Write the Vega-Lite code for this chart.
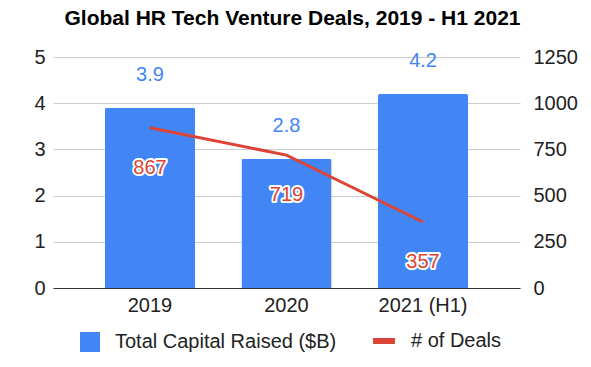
{
  "$schema": "https://vega.github.io/schema/vega-lite/v6.json",
  "width": 467,
  "height": 231,
  "autosize": "none",
  "padding": {"left": 53, "top": 57, "right": 71, "bottom": 79},
  "background": "white",
  "title": {
    "text": "Global HR Tech Venture Deals, 2019 - H1 2021",
    "font": "Liberation Sans",
    "fontSize": 21,
    "fontWeight": "bold",
    "color": "#000000",
    "anchor": "middle",
    "frame": "group",
    "offset": 18,
    "dx": 6
  },
  "config": {
    "view": {"stroke": null},
    "font": "Liberation Sans",
    "axis": {"labelFont": "Liberation Sans", "labelFontSize": 20, "labelColor": "#222222", "ticks": false, "title": null}
  },
  "data": {
    "values": [
      {"year": "2019", "capital": 3.9, "deals": 867},
      {"year": "2020", "capital": 2.8, "deals": 719},
      {"year": "2021 (H1)", "capital": 4.2, "deals": 357}
    ]
  },
  "encoding": {
    "x": {
      "field": "year",
      "type": "nominal",
      "sort": null,
      "scale": {"paddingInner": 0.34, "paddingOuter": 0.38},
      "axis": {"labelAngle": 0, "domainColor": "#333333", "domainWidth": 1, "labelPadding": 7, "grid": false}
    }
  },
  "layer": [
    {
      "layer": [
        {
          "mark": {"type": "bar", "cornerRadiusTopLeft": 2, "cornerRadiusTopRight": 2},
          "encoding": {
            "y": {
              "field": "capital",
              "type": "quantitative",
              "scale": {"domain": [0, 5], "nice": false},
              "axis": {"values": [0, 1, 2, 3, 4, 5], "grid": true, "gridColor": "#cccccc", "domain": false, "labelPadding": 8, "orient": "left"}
            },
            "fill": {
              "datum": "Total Capital Raised ($B)",
              "type": "nominal",
              "scale": {"range": ["#4285F4"]},
              "legend": {
                "orient": "none",
                "legendX": 27,
                "legendY": 275,
                "title": null,
                "padding": 0,
                "symbolType": "square",
                "symbolSize": 400,
                "symbolStrokeWidth": 0,
                "labelFontSize": 20,
                "labelFont": "Liberation Sans",
                "labelColor": "#222222",
                "labelOffset": 15,
                "labelLimit": 0
              }
            }
          }
        },
        {
          "mark": {"type": "text", "baseline": "middle", "dy": -33, "fontSize": 20, "color": "#4285F4"},
          "encoding": {
            "y": {"field": "capital", "type": "quantitative"},
            "text": {"field": "capital", "type": "quantitative", "format": ".1f"}
          }
        }
      ]
    },
    {
      "layer": [
        {
          "mark": {"type": "line", "strokeWidth": 3},
          "encoding": {
            "y": {
              "field": "deals",
              "type": "quantitative",
              "scale": {"domain": [0, 1250], "nice": false},
              "axis": {"values": [0, 250, 500, 750, 1000, 1250], "format": "d", "grid": false, "domain": false, "labelPadding": 13, "orient": "right"}
            },
            "stroke": {
              "datum": "# of Deals",
              "type": "nominal",
              "scale": {"range": ["#DB4437"]},
              "legend": {
                "orient": "none",
                "legendX": 317,
                "legendY": 270,
                "title": null,
                "padding": 0,
                "symbolType": "stroke",
                "symbolSize": 484,
                "symbolStrokeWidth": 6,
                "labelFontSize": 20,
                "labelFont": "Liberation Sans",
                "labelColor": "#222222",
                "labelOffset": 13,
                "labelLimit": 0
              }
            }
          }
        },
        {
          "mark": {"type": "text", "baseline": "middle", "dy": 40, "fontSize": 20, "stroke": "white", "strokeWidth": 4, "strokeJoin": "round", "fill": "white"},
          "encoding": {
            "y": {"field": "deals", "type": "quantitative"},
            "text": {"field": "deals", "type": "quantitative"}
          }
        },
        {
          "mark": {"type": "text", "baseline": "middle", "dy": 40, "fontSize": 20, "fill": "#DB4437"},
          "encoding": {
            "y": {"field": "deals", "type": "quantitative"},
            "text": {"field": "deals", "type": "quantitative"}
          }
        }
      ]
    }
  ],
  "resolve": {"scale": {"y": "independent", "fill": "independent", "stroke": "independent"}}
}
